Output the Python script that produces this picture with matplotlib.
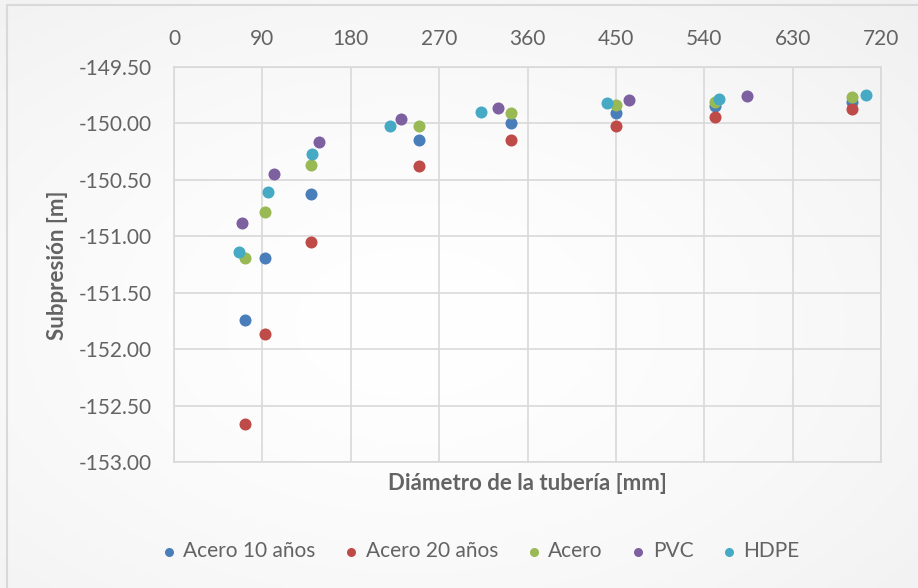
import numpy as np
import matplotlib
matplotlib.use('Agg')
import matplotlib.pyplot as plt
from matplotlib.patches import Rectangle

# diameters [mm] and underpressure [m] per pipe type
acero_d = [72, 93, 140, 249, 343, 450, 551, 690]
acero10 = [-151.74, -151.19, -150.625, -150.15, -150.00, -149.905, -149.85, -149.81]
acero20 = [-152.66, -151.87, -151.05, -150.38, -150.15, -150.02, -149.94, -149.875]
acero = [-151.19, -150.785, -150.37, -150.02, -149.91, -149.837, -149.81, -149.77]

pvc_d = [69, 102, 148, 231, 330, 463, 584]
pvc = [-150.885, -150.445, -150.167, -149.96, -149.86, -149.79, -149.757]

hdpe_d = [66, 96, 141, 220, 313, 441, 555, 705]
hdpe = [-151.14, -150.61, -150.27, -150.025, -149.90, -149.82, -149.78, -149.75]

series = [
    ("Acero 10 años", acero_d, acero10, "#4a7ebb"),
    ("Acero 20 años", acero_d, acero20, "#be4b48"),
    ("Acero", acero_d, acero, "#98b954"),
    ("PVC", pvc_d, pvc, "#7d60a0"),
    ("HDPE", hdpe_d, hdpe, "#46aac5"),
]

xticks = np.arange(0, 721, 90)
yticks = np.arange(-153.0, -149.49, 0.5)

plt.rcParams['font.family'] = ['Lato', 'DejaVu Sans']
txt = "#636363"
grid = "#d9d9d9"

fig = plt.figure(figsize=(9.18, 5.88), dpi=100)

# soft background of the chart area
bg = fig.add_axes([0, 0, 1, 1], zorder=-10)
yy, xx = np.mgrid[0:1:200j, 0:1:300j]
r = np.sqrt((xx - 0.45) ** 2 + (yy - 0.55) ** 2)
shade = 1.0 - 0.055 * np.clip(r / 0.75, 0, 1) ** 1.5
bg.imshow(np.dstack([shade] * 3), extent=[0, 1, 0, 1], aspect='auto')
bg.add_patch(Rectangle((7 / 918, -0.01), 1.0, 1 - 5 / 588 + 0.01,
                       fill=False, edgecolor=grid, linewidth=1.5))
bg.set_xlim(0, 1)
bg.set_ylim(0, 1)
bg.axis('off')

ax = fig.add_axes([174 / 918, 1 - 462 / 588, 707 / 918, 395 / 588])
ax.set_facecolor('none')

for name, xs, ys, c in series:
    ax.scatter(xs, ys, s=75, color=c, label=name, zorder=3, linewidths=0)

ax.set_xlim(0, 720)
ax.set_ylim(-153.0, -149.5)
ax.set_xticks(xticks)
ax.set_yticks(yticks)
ax.set_yticklabels([f"{v:.2f}" for v in yticks])
ax.xaxis.tick_top()
ax.tick_params(axis='x', length=0, pad=13, labelsize=15, labelcolor=txt)
ax.tick_params(axis='y', length=0, pad=16, labelsize=15, labelcolor=txt)
ax.grid(True, color=grid, linewidth=1.2, zorder=0)
ax.set_axisbelow(True)
for sp in ax.spines.values():
    sp.set_color(grid)
    sp.set_linewidth(1.2)

# axis titles
fig.text(527 / 918, 1 - 483 / 588, "Diámetro de la tubería [mm]", fontsize=16,
         fontweight='bold', color=txt, ha='center', va='center')
fig.text(57 / 918, 1 - 265 / 588, "Subpresión [m]", fontsize=16,
         fontweight='bold', color=txt, ha='center', va='center', rotation=90)

fig.legend(loc='center', bbox_to_anchor=(480 / 918, 1 - 551 / 588), ncol=5,
           frameon=False, fontsize=15, labelcolor=txt, handlelength=0.8,
           handletextpad=0.3, columnspacing=1.3, markerscale=0.75)

fig.savefig("out.png", dpi=100)
